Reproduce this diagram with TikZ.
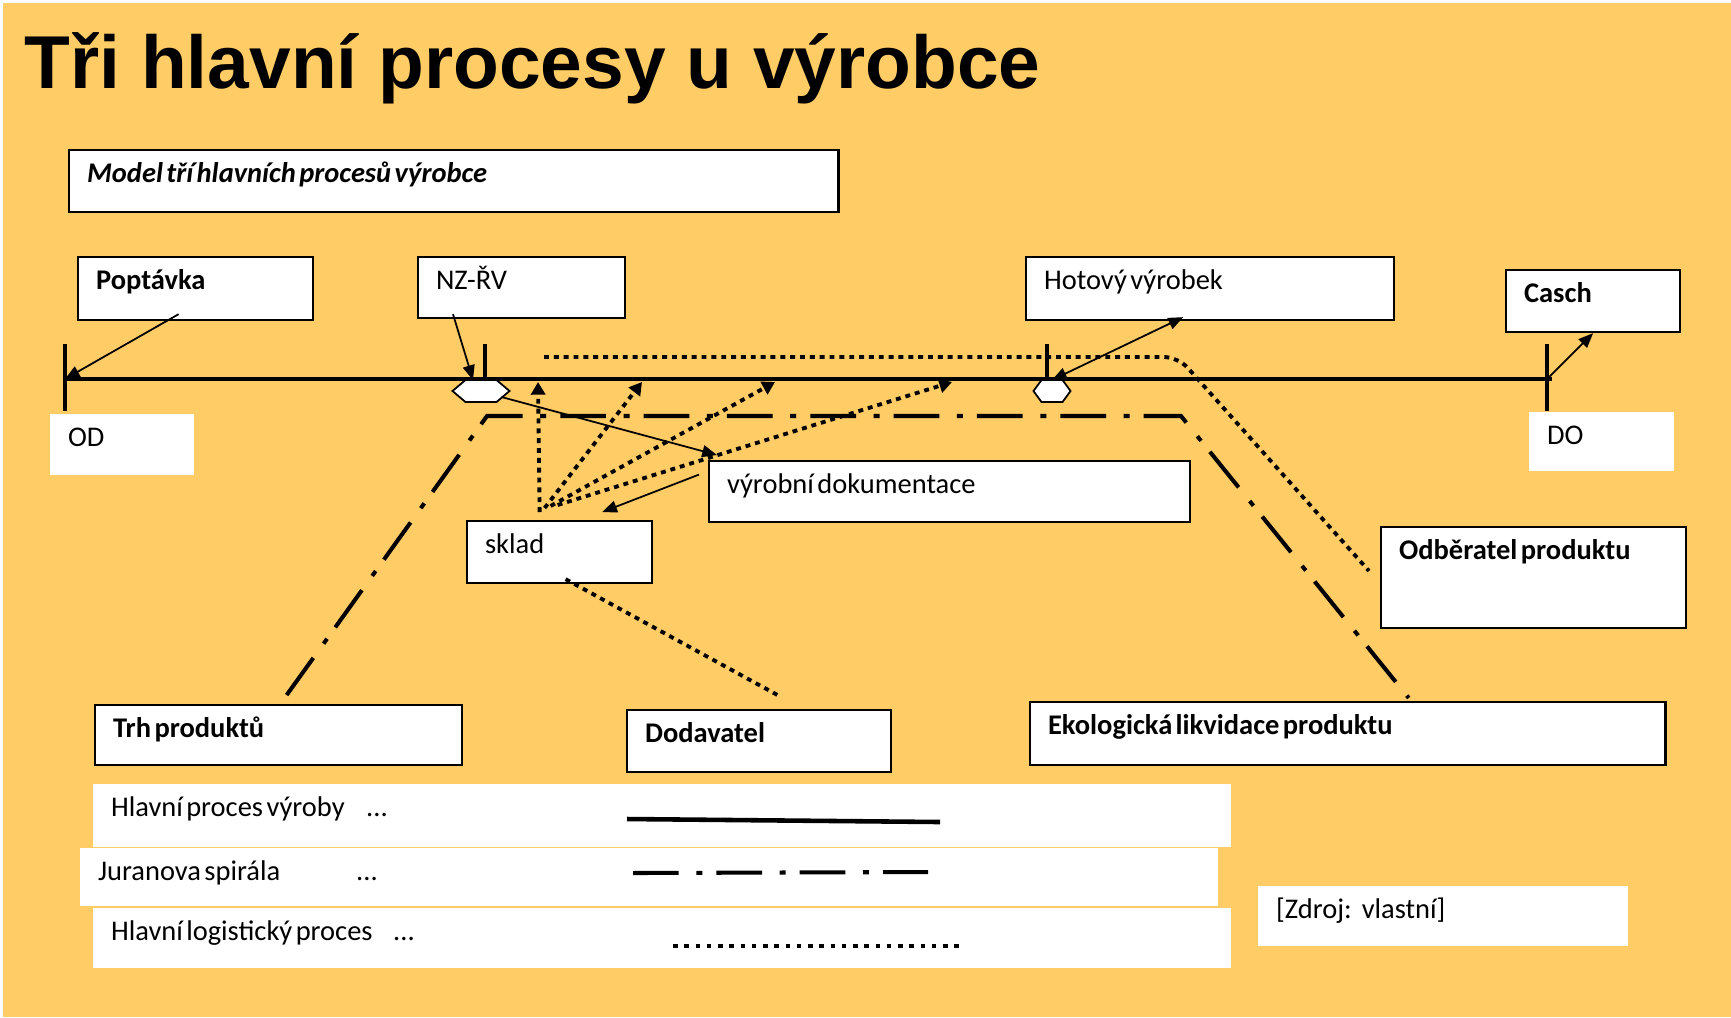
\documentclass[tikz,border=0pt]{standalone}
\usepackage{fontspec}
\setmainfont{Carlito}
\newfontfamily\titulfont{Liberation Sans}
\usetikzlibrary{arrows.meta}
\usetikzlibrary{calc}
\definecolor{folie}{RGB}{255,204,102}
\newcommand{\kfont}{\fontsize{8.1}{9.6}\selectfont}

\begin{document}
\begin{tikzpicture}[x=0.01cm, y=-0.01cm, >={Triangle[length=4.2pt,width=3.4pt]},
	ramec/.style 2 args={draw=black, fill=white, line width=0.6pt, anchor=north west,
		inner xsep=0.18cm, inner ysep=0pt, text height=0.32cm, text width=#1cm,
		text depth=#2cm, align=left, font=\kfont,
		execute at begin node={\spaceskip=0.12em plus 0.05em\relax}},
	pole/.style 2 args={ramec={#1}{#2}, draw=none},
	osa/.style={line width=1.3pt},
	sipka/.style={line width=0.5pt, ->},
	juran/.style={line width=1.15pt, dash pattern=on 13pt off 5pt on 1.7pt off 4pt},
	logistika/.style={line width=1.1pt, dash pattern=on 1.4pt off 1.4pt},
	hexa/.style={inner sep=0pt, outer sep=0pt, minimum height=0.22cm}]

	% pozadi
	\fill[white] (0,0) rectangle (1731,1017);
	\fill[folie] (3,3) rectangle (1731,1017);

	\node[anchor=base west, inner sep=0pt, font=\titulfont\bfseries\fontsize{21.3}{25}\selectfont] (titul) at (24,88) {Tři hlavní procesy u výrobce};

	% ramecky
	\node[ramec={7.33}{.30}] (model) at (68,149) {\bfseries\itshape Model tří hlavních procesů výrobce};
	\node[ramec={1.99}{.31}] (poptavka) at (77,256) {\bfseries Poptávka};
	\node[ramec={1.71}{.29}] (nzrv) at (417,256) {NZ-ŘV};
	\node[ramec={3.32}{.31}] (hotovy) at (1025,256) {Hotový výrobek};
	\node[ramec={1.38}{.30}] (casch) at (1505,269) {\bfseries Casch};
	\node[pole={1.08}{.29}] (od) at (49,413) {OD};
	\node[pole={1.09}{.27}] (do) at (1528,411) {DO};
	\node[ramec={4.45}{.29}] (dokum) at (708,460) {výrobní dokumentace};
	\node[ramec={1.49}{.30}] (sklad) at (466,520) {sklad};
	\node[ramec={2.69}{.69}] (odberatel) at (1380,526) {\bfseries Odběratel produktu};
	\node[ramec={3.31}{.28}] (trh) at (94,704) {\bfseries Trh produktů};
	\node[ramec={2.28}{.30}] (dodavatel) at (626,709) {\bfseries Dodavatel};
	\node[ramec={5.99}{.31}] (eko) at (1029,701) {\bfseries Ekologická likvidace produktu};

	% legenda
	\node[pole={11.01}{.31}] (leg1) at (92,783) {\makebox[2.55cm][l]{Hlavní proces výroby}...};
	\node[pole={11.01}{.26}] (leg2) at (79,847) {\makebox[2.58cm][l]{Juranova spirála}...};
	\node[pole={11.01}{.28}] (leg3) at (92,907) {\makebox[2.82cm][l]{Hlavní logistický proces}...};
	\node[pole={3.34}{.28}] (zdroj) at (1257,885) {[Zdroj:\hspace{0.35em}vlastní]};
	\draw[osa] (627,819) -- (940,822);
	\draw[juran] (633,873) -- (928,872);
	\draw[line width=0.95pt, dash pattern=on 1.3pt off 1.9pt] (673,946) -- (959,946);

	% casova osa
	\coordinate (od0) at (65,379);
	\coordinate (nz0) at (485,379);
	\coordinate (hv0) at (1047,379);
	\coordinate (do0) at (1547,379);
	\draw[osa] (od0) -- ($(do0)+(5,0)$);
	\draw[osa] ($(od0)+(0,-35)$) -- ($(od0)+(0,32)$);
	\draw[osa] ($(nz0)+(0,-35)$) -- (nz0);
	\draw[osa] ($(hv0)+(0,-35)$) -- (hv0);
	\draw[osa] ($(do0)+(0,-35)$) -- ($(do0)+(0,32)$);

	\node[hexa, minimum width=0.57cm] (h1) at (481,391) {};
	\node[hexa, minimum width=0.37cm] (h2) at (1052,391) {};
	\foreach \h/\a in {h1/13, h2/8}
		\filldraw[fill=white, line width=0.5pt] (\h.west) -- ($(\h.north west)+(\a,0)$) -- ($(\h.north east)+(-\a,0)$)
			-- (\h.east) -- ($(\h.south east)+(-\a,0)$) -- ($(\h.south west)+(\a,0)$) -- cycle;

	% Juranova spirala
	\draw[juran] ($(trh.north)+(8,-9)$) -- (487,416) -- (1181,416) -- ($(eko.north)+(61,-3)$);

	% logisticky proces
	\draw[logistika, rounded corners=4pt] (544,357) -- (1178,357) -- ($(odberatel.north west)+(-11,45)$);
	\draw[logistika] ($(sklad.south)+(6,-5)$) -- ($(dodavatel.north)+(22,-12)$);
	\foreach \i/\x in {1/538, 2/642, 3/775, 4/952}
		\coordinate (cil\i) at (\x,382);
	\foreach \dx/\dy/\i in {-20/-8/1, -15/-12/2, -9/-14/3, -2/-15/4}
		\draw[logistika, -{Triangle[length=3.6pt,width=4pt]}] ($(sklad.north)+(\dx,\dy)$) -- (cil\i);

	% sipky
	\draw[sipka] ($(poptavka.south)+(-17,-7)$) -- (od0);
	\draw[sipka] ($(nzrv.south west)+(36,-5)$) -- ($(h1.north)+(-8,0)$);
	\draw[sipka] ($(h1.south east)+(-8,-5)$) -- ($(dokum.north west)+(9,-5)$);
	\draw[sipka] ($(dokum.west)+(-9,-17)$) -- ($(sklad.north east)+(-51,-8)$);
	\draw[sipka, <->] (h2.north) -- ($(hotovy.south)+(-27,-4)$);
	\draw[sipka] (do0) -- (casch.south);

\end{tikzpicture}
\end{document}
